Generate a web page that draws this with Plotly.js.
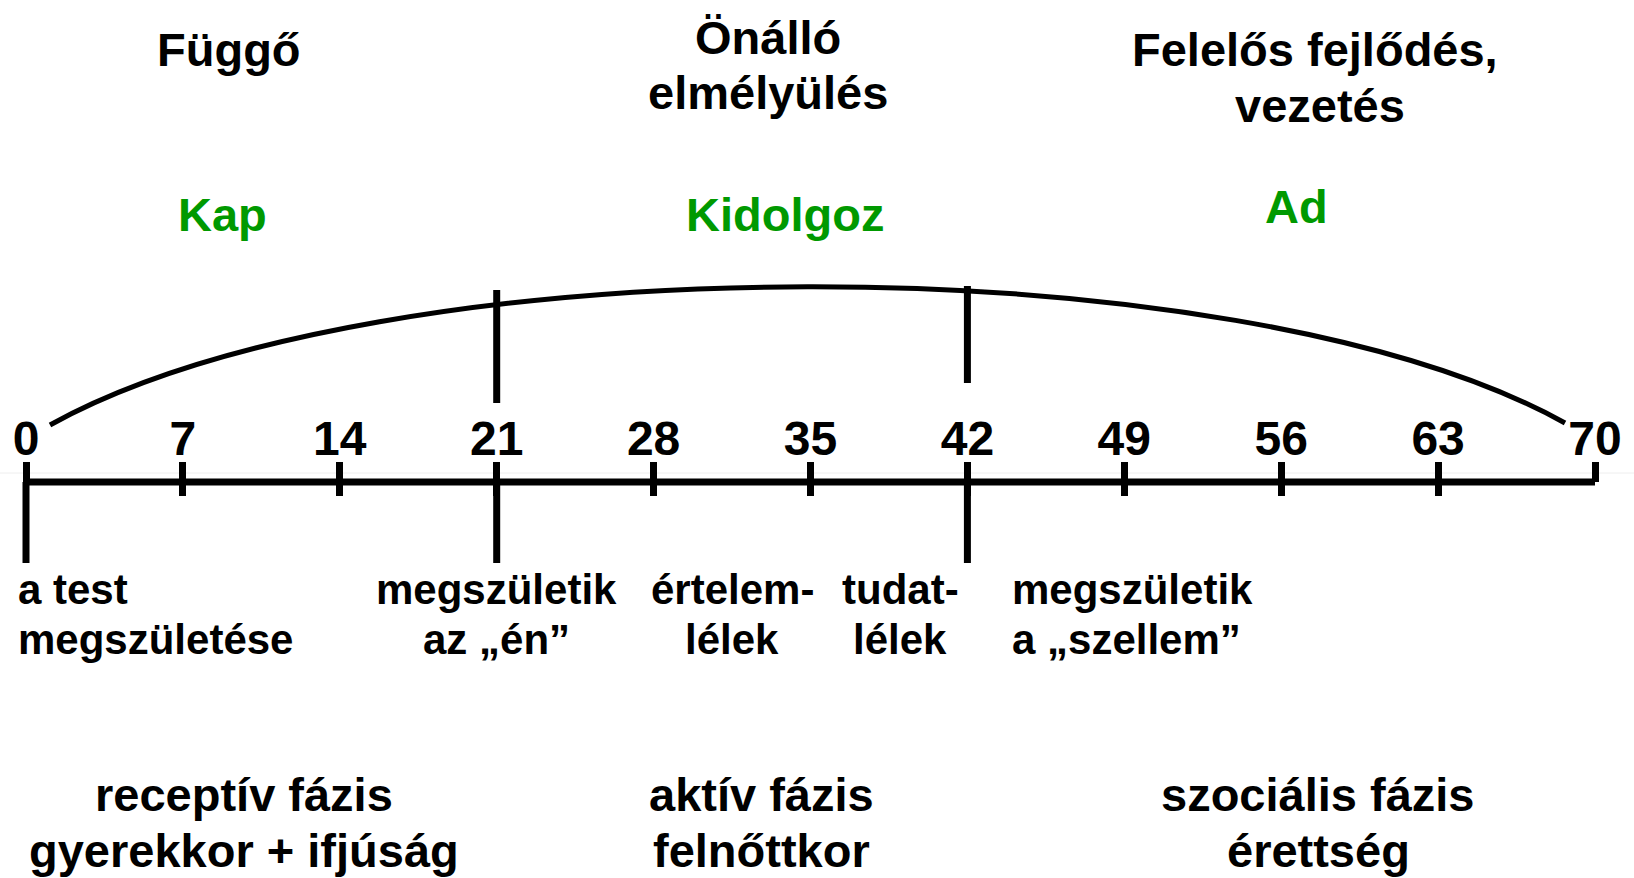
<!DOCTYPE html>
<html>
<head>
<meta charset="utf-8">
<script src="https://cdn.plot.ly/plotly-3.0.1.min.js"></script>
<style>
html,body{margin:0;padding:0;background:#ffffff;}
#chart{width:1634px;height:878px;}
</style>
</head>
<body>
<div id="chart"></div>
<script>
// ---------- data ----------
const ages = [0, 7, 14, 21, 28, 35, 42, 49, 56, 63, 70];
const tickLabels = ["0", "7", "14", "21", "28", "35", "42", "49", "56", "63", "70"];
const phaseBounds = [0, 21, 42];          // long lines below the axis
const upperBounds = [21, 42];             // lines rising to the arc
const topTitles = [["Függő"], ["Önálló", "elmélyülés"], ["Felelős fejlődés,", "vezetés"]];
const verbs = ["Kap", "Kidolgoz", "Ad"];
const milestones = [
  ["a test", "megszületése"],
  ["megszületik", "az „én”"],
  ["értelem-", "lélek"],
  ["tudat-", "lélek"],
  ["megszületik", "a „szellem”"]
];
const phases = [["receptív fázis", "gyerekkor + ifjúság"], ["aktív fázis", "felnőttkor"], ["szociális fázis", "érettség"]];

// ---------- layout geometry ----------
const W = 1634, H = 878;
const axisPx = 482;                 // pixel row of the time axis
const x0Px = 26, xEndPx = 1595;     // pixel columns of the first and last age
const pxPerYear = (xEndPx - x0Px) / (ages[ages.length - 1] - ages[0]);
const xRange = [ages[0] - x0Px / pxPerYear, ages[0] + (W - x0Px) / pxPerYear];
const yRange = [-(H - axisPx), axisPx];   // data y = axisPx - pixel row
const py = p => axisPx - p;
const paperX = p => p / W;
const paperY = p => 1 - p / H;

const FONT = "Liberation Sans, Arial, Helvetica, sans-serif";
const BLACK = "#000000", GREEN = "#009900";
const LW = 7;

// ---------- traces ----------
const last = ages[ages.length - 1];
const lowerX = [], lowerY = [];
phaseBounds.forEach(a => { lowerX.push(a, a, null); lowerY.push(0, py(563), null); });
const upperTop = {21: py(290), 42: py(286)};
const upperBot = {21: py(403), 42: py(383)};
const upX = [], upY = [];
upperBounds.forEach(a => { upX.push(a, a, null); upY.push(upperBot[a], upperTop[a], null); });

const traces = [
  {type: "scatter", mode: "lines", x: [ages[0], last], y: [0, 0],
   line: {color: BLACK, width: LW}, hoverinfo: "skip", showlegend: false},
  {type: "scatter", mode: "lines", x: lowerX, y: lowerY,
   line: {color: BLACK, width: LW}, hoverinfo: "skip", showlegend: false},
  {type: "scatter", mode: "lines", x: upX, y: upY,
   line: {color: BLACK, width: LW}, hoverinfo: "skip", showlegend: false},
  {type: "scatter", mode: "markers", x: [ages[0]], y: [0], xaxis: "x2",
   marker: {opacity: 0}, hoverinfo: "skip", showlegend: false}
];

// ---------- arc (cubic Bezier in data units) ----------
const aS = ages[0] + (50 - x0Px) / pxPerYear;
const aE = last - (xEndPx - 1565) / pxPerYear;
const c1 = ages[0] + (380 - x0Px) / pxPerYear;
const c2 = ages[0] + (1235 - x0Px) / pxPerYear;
const arcPath = `M ${aS},${py(425)} C ${c1},${py(242)} ${c2},${py(240)} ${aE},${py(423)}`;

const shapes = [
  {type: "line", xref: "paper", yref: "paper", x0: 0, x1: 1, y0: paperY(473), y1: paperY(473),
   line: {color: "#eeeeee", width: 1}, layer: "below"},
  {type: "path", xref: "x", yref: "y", path: arcPath, line: {color: BLACK, width: 5}}
];

// ---------- annotations ----------
const ann = [];
function addText(text, xVal, xref, baselinePx, size, color, xanchor, xshift) {
  ann.push({
    text: text, x: xVal, xref: xref, y: paperY(baselinePx - 0.35 * size), yref: "paper",
    xanchor: xanchor || "center", yanchor: "middle", xshift: xshift || 0,
    showarrow: false, font: {family: FONT, size: size, color: color, weight: "bold"}
  });
}
const TS = 47;
// top titles
const titleCx = [[229], [768, 768], [1315, 1320]];
const titleBase = [[66], [54, 109], [66, 122]];
topTitles.forEach((lines, i) => lines.forEach((t, j) =>
  addText(t, paperX(titleCx[i][j]), "paper", titleBase[i][j], TS, BLACK)));
// green verbs
const verbCx = [222, 785, 1296];
const verbBase = [231, 231, 223];
verbs.forEach((t, i) => addText(t, paperX(verbCx[i]), "paper", verbBase[i], TS, GREEN));
// milestone labels (positioned relative to the phase lines)
const LS = 42;
const msPlace = [
  {x: ages[0], anchor: "left", shift: -10},
  {x: 21, anchor: "center", shift: 0},
  {x: (21 + 42) / 2, anchor: "center", shift: 0},
  {x: 42, anchor: "center", shift: -67},
  {x: 42, anchor: "left", shift: 43}
];
const msBase = [604, 654];
milestones.forEach((lines, i) => lines.forEach((t, j) =>
  addText(t, msPlace[i].x, "x", msBase[j], LS, BLACK, msPlace[i].anchor, msPlace[i].shift)));
// bottom phases
const phCx = [244, 761, 1318];
const phBase = [811, 867];
phases.forEach((lines, i) => lines.forEach((t, j) =>
  addText(t, paperX(phCx[i]), "paper", phBase[j], TS, BLACK)));

// ---------- layout ----------
const axisPos = (H - axisPx) / H;
const layout = {
  width: W, height: H,
  margin: {l: 0, r: 0, t: 0, b: 0, pad: 0},
  paper_bgcolor: "#ffffff", plot_bgcolor: "#ffffff",
  showlegend: false,
  xaxis: {
    range: xRange, domain: [0, 1], anchor: "free", position: axisPos, side: "top",
    showgrid: false, zeroline: false, showline: false,
    tickmode: "array", tickvals: ages, ticktext: tickLabels,
    ticks: "outside", ticklen: 20, tickwidth: LW, tickcolor: BLACK,
    tickfont: {family: FONT, size: 48, color: BLACK, weight: "bold"},
    ticklabelstandoff: -12, fixedrange: true
  },
  xaxis2: {
    matches: "x", overlaying: "x", anchor: "free", position: axisPos, side: "bottom",
    showgrid: false, zeroline: false, showline: false,
    tickmode: "array", tickvals: ages.slice(1, -1),
    ticks: "outside", ticklen: 13, tickwidth: LW, tickcolor: BLACK,
    showticklabels: false, fixedrange: true
  },
  yaxis: {range: yRange, domain: [0, 1], visible: false, showgrid: false, zeroline: false, fixedrange: true},
  shapes: shapes,
  annotations: ann
};

Plotly.newPlot("chart", traces, layout, {staticPlot: true, displayModeBar: false});
</script>
</body>
</html>
